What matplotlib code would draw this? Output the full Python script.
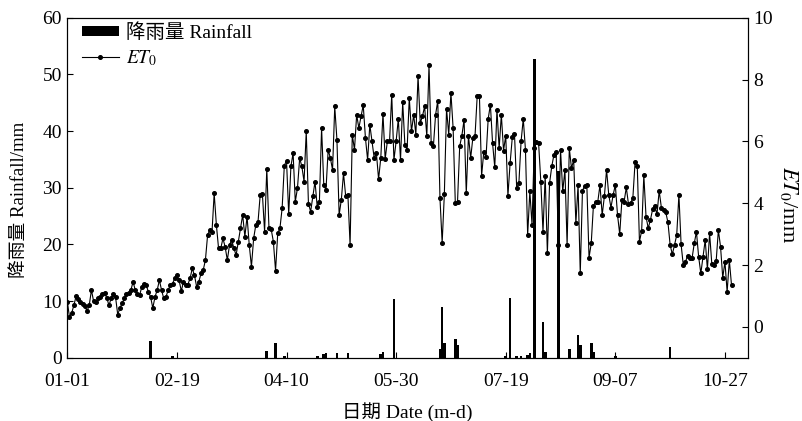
import numpy as np
import matplotlib
matplotlib.use("Agg")
import matplotlib.pyplot as plt

plt.rcParams["font.family"] = ["Liberation Serif", "Noto Sans CJK SC"]
plt.rcParams["mathtext.fontset"] = "stix"
plt.rcParams["font.size"] = 14

# ── data ───────────────────────────────────────────────────────────────────
tick_pos = [0, 50, 100, 150, 200, 250, 300]
tick_lab = ["01-01", "02-19", "04-10", "05-30", "07-19", "09-07", "10-27"]

# daily reference evapotranspiration (mm/d), day 0 = 01-01
et0 = [
    0.81, 0.32, 0.45, 0.70, 0.99, 0.90, 0.81, 0.75, 0.68, 0.51,
    0.70, 1.19, 0.83, 0.79, 0.92, 0.97, 1.05, 1.10, 0.94, 0.70,
    0.92, 1.05, 0.97, 0.40, 0.61, 0.76, 0.92, 1.05, 1.11, 1.19,
    1.46, 1.19, 1.05, 1.03, 1.30, 1.40, 1.35, 1.13, 0.97, 0.61,
    0.97, 1.19, 1.51, 1.19, 0.92, 0.97, 1.19, 1.35, 1.40, 1.57,
    1.67, 1.51, 1.16, 1.46, 1.37, 1.37, 1.57, 1.89, 1.67, 1.30,
    1.46, 1.73, 1.84, 2.16, 2.97, 3.13, 3.06, 4.32, 3.30, 2.54,
    2.54, 2.86, 2.59, 2.16, 2.65, 2.81, 2.54, 2.32, 2.76, 3.19,
    3.62, 2.92, 3.57, 2.65, 1.95, 2.86, 3.30, 3.40, 4.27, 4.29,
    3.08, 5.11, 3.19, 3.16, 2.76, 1.82, 3.03, 3.19, 3.84, 5.22,
    5.38, 3.64, 5.19, 5.62, 4.05, 4.49, 5.46, 5.19, 4.70, 6.32,
    3.99, 3.73, 4.22, 4.70, 3.89, 4.05, 6.43, 4.59, 4.43, 5.73,
    5.46, 5.08, 7.13, 6.05, 3.62, 4.11, 4.97, 4.22, 4.27, 2.65,
    6.22, 5.73, 6.86, 6.43, 6.81, 7.17, 6.11, 5.40, 6.54, 6.00,
    5.46, 5.62, 4.78, 5.46, 6.89, 5.43, 6.00, 6.00, 7.51, 5.40,
    6.00, 6.73, 5.40, 7.27, 5.89, 5.73, 7.40, 6.32, 6.86, 6.22,
    8.11, 6.59, 6.81, 7.13, 6.16, 8.46, 5.94, 5.84, 6.86, 7.32,
    4.16, 2.72, 4.29, 7.06, 6.22, 7.57, 6.43, 4.00, 4.03, 5.84,
    6.19, 6.70, 4.32, 6.19, 5.46, 6.11, 6.19, 7.48, 7.48, 4.89,
    5.67, 5.48, 6.73, 7.19, 5.94, 5.16, 7.03, 5.78, 6.86, 5.70,
    6.19, 4.24, 5.30, 6.13, 6.24, 4.49, 4.65, 6.00, 6.73, 5.73,
    2.97, 4.38, 3.30, 5.78, 5.97, 5.94, 4.70, 3.08, 4.89, 2.38,
    4.65, 5.19, 5.57, 5.67, 2.65, 5.73, 4.38, 5.08, 2.65, 5.78,
    5.13, 5.40, 3.35, 4.59, 1.73, 4.40, 4.57, 4.59, 2.24, 2.70,
    3.92, 4.05, 4.05, 4.59, 3.62, 4.22, 5.08, 4.27, 3.86, 4.27,
    4.59, 3.62, 3.00, 4.11, 4.05, 4.51, 3.97, 4.00, 4.18, 5.32,
    5.22, 2.76, 3.10, 4.90, 3.57, 3.19, 3.46, 3.80, 3.92, 3.64,
    4.40, 3.86, 3.78, 3.71, 3.38, 2.65, 2.35, 2.65, 2.97, 4.27,
    2.67, 2.00, 2.11, 2.30, 2.22, 2.22, 2.70, 3.08, 2.27, 1.73,
    2.27, 2.81, 1.86, 3.03, 2.05, 2.00, 2.13, 3.13, 2.59, 1.59,
    2.11, 1.13, 2.16, 1.35,
]
days = np.arange(len(et0))

rain_day = [38, 48, 91, 95, 99, 114, 117, 118, 123, 128, 143, 144, 149,
            170, 171, 172, 177, 178, 200, 202, 205, 207, 210, 211, 213,
            217, 218, 224, 229, 233, 234, 239, 240, 250, 275]
rain_mm = [2.9, 0.4, 1.2, 2.6, 0.3, 0.3, 0.6, 0.8, 0.8, 0.8, 0.7, 1.0, 10.4,
           1.5, 9.0, 2.7, 3.3, 2.2, 0.3, 10.6, 0.3, 0.3, 0.5, 0.8, 52.7,
           6.3, 1.0, 33.0, 1.6, 4.0, 2.2, 2.6, 1.1, 0.3, 2.0]

# ── figure ─────────────────────────────────────────────────────────────────
fig = plt.figure(figsize=(8.03, 4.21), dpi=100)
ax = fig.add_axes([0.083, 0.150, 0.849, 0.808])
ax2 = ax.twinx()

bars = ax.bar(rain_day, rain_mm, width=1.2, color="black", linewidth=0,
              label="降雨量 Rainfall")
ln, = ax2.plot(days, et0, color="black", lw=0.8, marker="o", ms=2.6,
               label="$ET_0$")

ax.set_xlim(-0.3, 310.7)
ax.set_ylim(0, 60)
ax.set_yticks(range(0, 61, 10))
ax2.set_ylim(-1, 10)
ax2.set_yticks(range(0, 11, 2))
ax.set_xticks(tick_pos)
ax.set_xticklabels(tick_lab)

for a in (ax, ax2):
    a.tick_params(direction="in", length=4, width=0.8, labelsize=14)
    for s in a.spines.values():
        s.set_linewidth(0.8)
ax.tick_params(axis="x", pad=11)

ax.set_xlabel("日期 Date (m-d)", fontsize=14, labelpad=9)
ax.set_ylabel("降雨量 Rainfall/mm", fontsize=13.5)
ax.yaxis.set_label_coords(-0.056, 0.465)
ax2.set_ylabel("$ET_0$/mm", fontsize=16, rotation=270)
ax2.yaxis.set_label_coords(1.075, 0.45)

ax.legend([bars, ln], ["降雨量 Rainfall", "$ET_0$"], loc="upper left",
          bbox_to_anchor=(0.0107, 1.006), borderaxespad=0, frameon=False,
          fontsize=14, handlelength=1.9, handleheight=0.4,
          labelspacing=0.3, handletextpad=0.4)

fig.savefig("out.png", dpi=100)
